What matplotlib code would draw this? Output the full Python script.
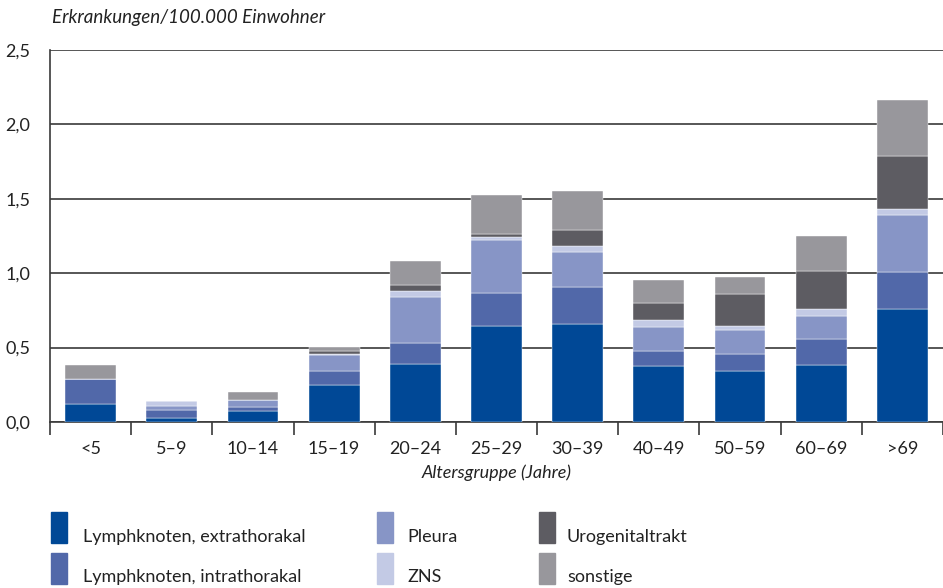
import matplotlib.pyplot as plt
import matplotlib.patches as mpatches
import numpy as np

plt.rcParams['font.family'] = ['Lato', 'DejaVu Sans']

gruppen = ["<5", "5–9", "10–14", "15–19", "20–24", "25–29", "30–39",
           "40–49", "50–59", "60–69", ">69"]

extrathorakal = [0.12, 0.03, 0.075, 0.25, 0.39, 0.645, 0.66, 0.375, 0.34, 0.385, 0.76]
intrathorakal = [0.17, 0.05, 0.025, 0.09, 0.14, 0.22, 0.25, 0.10, 0.115, 0.175, 0.25]
pleura = [0.0, 0.03, 0.05, 0.11, 0.31, 0.36, 0.235, 0.165, 0.16, 0.155, 0.38]
zns = [0.0, 0.03, 0.0, 0.005, 0.04, 0.02, 0.04, 0.045, 0.03, 0.045, 0.04]
urogenital = [0.0, 0.0, 0.0, 0.02, 0.04, 0.02, 0.105, 0.115, 0.215, 0.255, 0.355]
sonstige = [0.09, 0.0, 0.05, 0.03, 0.16, 0.26, 0.26, 0.155, 0.115, 0.235, 0.38]

serien = [
    ("Lymphknoten, extrathorakal", extrathorakal, "#004896"),
    ("Lymphknoten, intrathorakal", intrathorakal, "#5168a9"),
    ("Pleura", pleura, "#8795c6"),
    ("ZNS", zns, "#c3cae5"),
    ("Urogenitaltrakt", urogenital, "#5d5c62"),
    ("sonstige", sonstige, "#98979c"),
]

fig = plt.figure(figsize=(9.43, 5.88), dpi=100)
ax = fig.add_axes([50 / 943, 1 - 422 / 588, 1 - 50 / 943, (422 - 50) / 588])

x = np.arange(len(gruppen))
bottom = np.zeros(len(gruppen))
for name, vals, col in serien:
    ax.bar(x, vals, width=0.625, bottom=bottom, color=col, zorder=3,
           edgecolor="white", linewidth=0.3)
    bottom += np.array(vals)

ax.set_xlim(-0.5, len(gruppen) - 0.5)
ax.set_ylim(0, 2.5)
ax.set_yticks([0, 0.5, 1.0, 1.5, 2.0, 2.5])
ax.set_yticklabels(["0,0", "0,5", "1,0", "1,5", "2,0", "2,5"])
ax.yaxis.grid(True, color="#3a3a3a", linewidth=1.2, zorder=1)
ax.tick_params(axis="y", length=0, pad=14, labelsize=13, colors="#222222")

ax.set_xticks(x)
ax.set_xticklabels(gruppen)
ax.set_xticks(np.arange(-0.5, len(gruppen)), minor=True)
ax.tick_params(axis="x", which="major", length=0, pad=14, labelsize=13, colors="#222222")
ax.tick_params(axis="x", which="minor", length=9, width=1.2, color="#3a3a3a", direction="out")

for s in ["top", "right"]:
    ax.spines[s].set_visible(False)
ax.spines["left"].set_color("#3a3a3a")
ax.spines["left"].set_linewidth(1.2)
ax.spines["bottom"].set_color("#3a3a3a")
ax.spines["bottom"].set_linewidth(1.2)

ax.set_xlabel("Altersgruppe (Jahre)", style="italic", fontsize=13, labelpad=5, color="#222222")
fig.text(52 / 943, 1 - 18 / 588, "Erkrankungen/100.000 Einwohner", style="italic",
         fontsize=13.5, va="center", ha="left", color="#222222")

# Legende
spalten = [(51, 83), (377, 407), (539, 567)]
zeilen = [(512, 537), (553, 577)]
for i, (name, vals, col) in enumerate(serien):
    cx, tx = spalten[i // 2]
    ry, ty = zeilen[i % 2]
    fig.patches.append(mpatches.Rectangle((cx / 943, 1 - (ry + 31) / 588), 16 / 943, 31 / 588,
                                          transform=fig.transFigure, color=col))
    fig.text(tx / 943, 1 - ty / 588, name, fontsize=13, va="center", ha="left", color="#222222")

fig.savefig("out.png", dpi=100)
